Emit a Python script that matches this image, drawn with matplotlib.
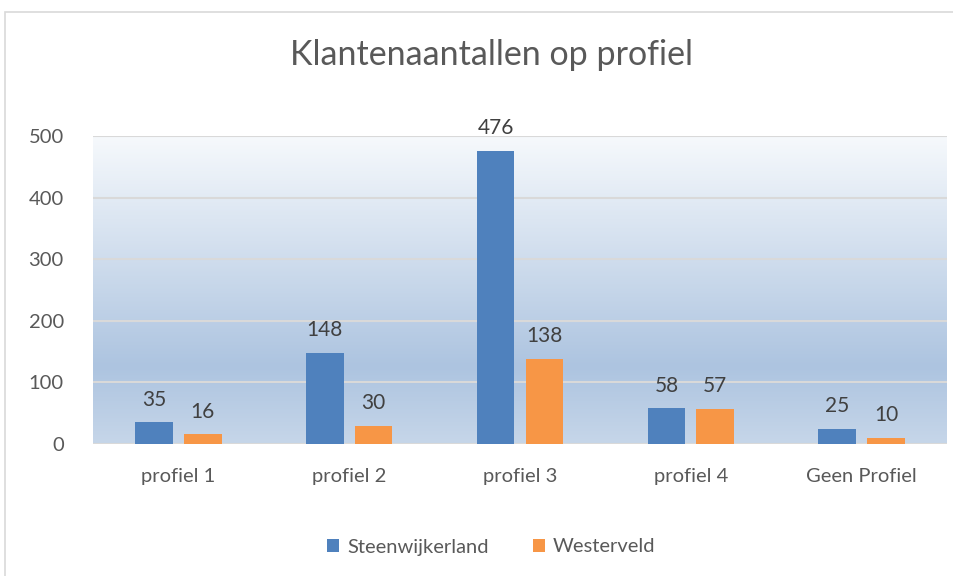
import numpy as np
import matplotlib.pyplot as plt
from matplotlib.colors import LinearSegmentedColormap
from matplotlib.patches import Rectangle

categories = ["profiel 1", "profiel 2", "profiel 3", "profiel 4", "Geen Profiel"]
steenwijkerland = [35, 148, 476, 58, 25]
westerveld = [16, 30, 138, 57, 10]
series_names = ["Steenwijkerland", "Westerveld"]

plt.rcParams['font.family'] = ['Lato', 'DejaVu Sans']

fig = plt.figure(figsize=(9.54, 5.76), dpi=100)
# chart border
fig.patches.append(Rectangle((5 / 954, -0.01), 1.0, 1 - 12 / 576 + 0.01, transform=fig.transFigure,
                             fill=False, edgecolor="#d9d9d9", linewidth=1.2))
ax = fig.add_axes([93 / 954, 132 / 576, 854 / 954, 308 / 576])

x = np.arange(len(categories))
ax.set_xlim(-0.5, len(categories) - 0.5)
ax.set_ylim(0, 500)

# gradient fill of plot area
cmap = LinearSegmentedColormap.from_list("bg", [(0, "#c6d6e9"), (0.25, "#adc4e0"), (1, "#f6f9fc")])
grad = np.linspace(0, 1, 256).reshape(-1, 1)
ax.imshow(grad, aspect="auto", cmap=cmap, origin="lower",
          extent=[-0.5, len(categories) - 0.5, 0, 500], zorder=0)

for y in range(100, 501, 100):
    ax.axhline(y, color="#d9d9d9", linewidth=1.5, zorder=1)
ax.axhline(0, color="#d9d9d9", linewidth=1.5, zorder=1)

w = 0.22
off = 0.143
b1 = ax.bar(x - off, steenwijkerland, w, color="#4f81bd", label=series_names[0], zorder=2)
b2 = ax.bar(x + off, westerveld, w, color="#f79646", label=series_names[1], zorder=2)
for bars in (b1, b2):
    ax.bar_label(bars, padding=9, fontsize=15, color="#404040")

for s in ax.spines.values():
    s.set_visible(False)
ax.set_xticks(x, categories)
ax.set_yticks(range(0, 501, 100))
ax.tick_params(length=0, labelsize=14.5, labelcolor="#595959")
ax.tick_params(axis="x", pad=17)
ax.tick_params(axis="y", pad=21)

fig.text(0.515, 1 - 55 / 576, "Klantenaantallen op profiel", ha="center", va="center",
         fontsize=24.5, color="#595959")

fig.legend(loc="center", bbox_to_anchor=(0.515, 1 - 547 / 576), ncol=2, frameon=False,
           fontsize=14.5, labelcolor="#595959", handlelength=0.6, handleheight=0.6,
           columnspacing=2.2, handletextpad=0.4)

fig.savefig("out.png", dpi=100)
